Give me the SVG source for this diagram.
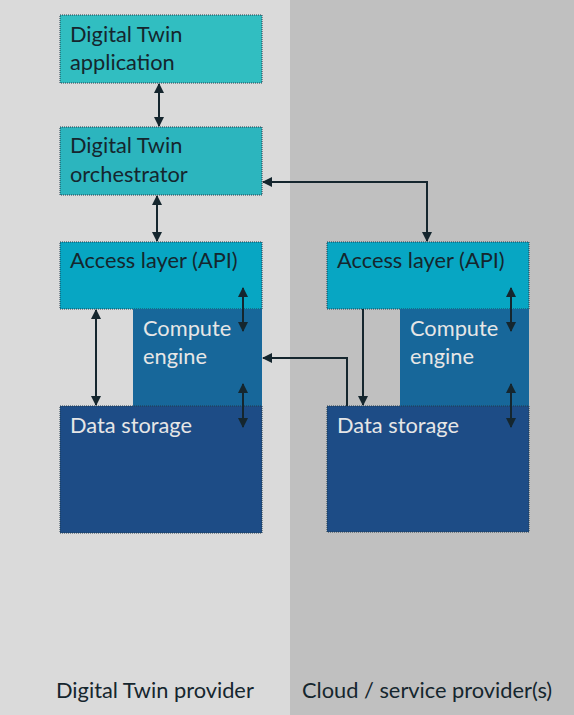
<svg xmlns="http://www.w3.org/2000/svg" width="574" height="715" viewBox="0 0 574 715">
<style>
.t{font-family:Lato,"Open Sans","Liberation Sans",sans-serif;font-size:21.8px}
.dk{fill:#15262e}
.lt{fill:#e6e6e6}
.b{stroke:#233a4a;stroke-width:1;stroke-dasharray:1 1}
.c{fill:none;stroke:#15262e;stroke-width:2}
</style>
<defs>
<marker id="ah" viewBox="0 0 10 10" refX="9" refY="5" markerWidth="5" markerHeight="5" orient="auto-start-reverse" markerUnits="strokeWidth">
<path d="M0,0 L10,5 L0,10 z" fill="#15262e"/>
</marker>
</defs>
<rect x="0" y="0" width="290" height="715" fill="#dadada"/>
<rect x="290" y="0" width="284" height="715" fill="#c0c0c0"/>

<g id="app">
<rect x="60" y="15" width="202" height="68" fill="#31bec1" class="b"/>
<text class="t dk" x="70" y="42">Digital Twin</text>
<text class="t dk" x="70" y="70">application</text>
</g>
<g id="orchestrator">
<rect x="60" y="127" width="202" height="68" fill="#2cb5be" class="b"/>
<text class="t dk" x="70" y="153">Digital Twin</text>
<text class="t dk" x="70" y="182">orchestrator</text>
</g>
<g id="access-left">
<rect x="60" y="242" width="202" height="67" fill="#07a6c3" class="b"/>
<text class="t dk" x="70" y="268">Access layer (API)</text>
</g>
<g id="compute-left">
<rect x="133" y="309" width="129" height="97" fill="#17679a"/>
<text class="t lt" x="143" y="336">Compute</text>
<text class="t lt" x="143" y="364">engine</text>
</g>
<g id="storage-left">
<rect x="60" y="406" width="202" height="127" fill="#1d4c86" class="b"/>
<text class="t lt" x="70" y="433">Data storage</text>
</g>
<g id="access-right">
<rect x="327" y="242" width="202" height="67" fill="#07a6c3" class="b"/>
<text class="t dk" x="337" y="268">Access layer (API)</text>
</g>
<g id="compute-right">
<rect x="400" y="309" width="129" height="97" fill="#17679a"/>
<text class="t lt" x="410" y="336">Compute</text>
<text class="t lt" x="410" y="364">engine</text>
</g>
<g id="storage-right">
<rect x="327" y="406" width="202" height="126" fill="#1d4c86" class="b"/>
<text class="t lt" x="337" y="433">Data storage</text>
</g>

<g id="connectors">
<line class="c" x1="159" y1="84" x2="159" y2="126" marker-start="url(#ah)" marker-end="url(#ah)"/>
<line class="c" x1="157" y1="196" x2="157" y2="241" marker-start="url(#ah)" marker-end="url(#ah)"/>
<line class="c" x1="96" y1="310" x2="96" y2="405" marker-start="url(#ah)" marker-end="url(#ah)"/>
<line class="c" x1="243" y1="288" x2="243" y2="331" marker-start="url(#ah)" marker-end="url(#ah)"/>
<line class="c" x1="243" y1="384" x2="243" y2="427" marker-start="url(#ah)" marker-end="url(#ah)"/>
<polyline class="c" points="263,182 427,182 427,241" marker-start="url(#ah)" marker-end="url(#ah)"/>
<line class="c" x1="363" y1="309" x2="363" y2="405" marker-end="url(#ah)"/>
<polyline class="c" points="347,406 347,358 263,358" marker-end="url(#ah)"/>
<line class="c" x1="511" y1="288" x2="511" y2="331" marker-start="url(#ah)" marker-end="url(#ah)"/>
<line class="c" x1="511" y1="384" x2="511" y2="427" marker-start="url(#ah)" marker-end="url(#ah)"/>
</g>

<text class="t dk" x="56" y="698">Digital Twin provider</text>
<text class="t dk" x="302" y="698">Cloud / service provider(s)</text>
</svg>
